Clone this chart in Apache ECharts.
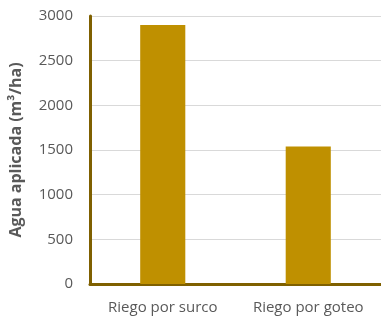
<!DOCTYPE html>
<html>
<head>
<meta charset="utf-8">
<script src="https://cdn.jsdelivr.net/npm/echarts@6/dist/echarts.min.js"></script>
<style>
  html, body { margin: 0; padding: 0; background: #fff; }
  #chart { width: 381px; height: 316px; }
</style>
</head>
<body>
<div id="chart"></div>
<script>
const categories = ['Riego por surco', 'Riego por goteo'];
const aguaAplicada = [2900, 1540];
const yTicks = [0, 500, 1000, 1500, 2000, 2500, 3000];

const chart = echarts.init(document.getElementById('chart'));

chart.setOption({
    animation: false,
    backgroundColor: '#fff',
    textStyle: { fontFamily: 'Open Sans' },
    grid: { left: 88, right: 0, top: 16, bottom: 32 },
    xAxis: {
        type: 'category',
        data: categories,
        axisLine: { lineStyle: { color: '#7f6000', width: 3 } },
        axisTick: { show: false },
        axisLabel: { color: '#595959', fontSize: 15, margin: 16 }
    },
    yAxis: {
        type: 'value',
        min: yTicks[0],
        max: yTicks[yTicks.length - 1],
        interval: 500,
        name: 'Agua aplicada (m³/ha)',
        nameLocation: 'middle',
        nameGap: 66,
        nameTextStyle: { color: '#595959', fontSize: 16, fontWeight: 'bold' },
        axisLine: { show: true, lineStyle: { color: '#7f6000', width: 3 } },
        axisTick: { show: false },
        axisLabel: { color: '#595959', fontSize: 15, margin: 17, formatter: v => String(v) },
        splitLine: { lineStyle: { color: '#d9d9d9' } }
    },
    series: [{
        type: 'bar',
        data: aguaAplicada,
        barWidth: '31%',
        itemStyle: { color: '#bf9000' }
    }]
});
</script>
</body>
</html>
